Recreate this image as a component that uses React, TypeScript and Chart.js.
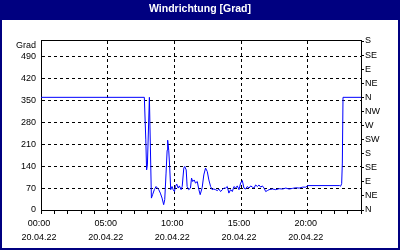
import React, { useEffect, useRef } from 'react';
import { Chart, registerables } from 'chart.js';

Chart.register(...registerables);

const TITLE = 'Windrichtung [Grad]';

const hours = [
  0, 7.75, 7.86, 7.92, 7.98, 8.13, 8.28, 8.37, 8.5, 8.63, 8.73, 8.83, 8.95, 9.08, 9.2, 9.28, 9.38, 9.46, 9.5, 9.58,
  9.65, 9.73, 9.83, 9.91, 10.01, 10.08, 10.18, 10.29, 10.38, 10.51, 10.59, 10.71, 10.78, 10.89, 10.96, 11.08, 11.21,
  11.29, 11.38, 11.49, 11.59, 11.72, 11.84, 11.94, 12.09, 12.21, 12.34, 12.47, 12.59, 12.72, 12.84, 12.96, 13.09,
  13.22, 13.34, 13.47, 13.6, 13.72, 13.85, 13.97, 14.09, 14.22, 14.35, 14.47, 14.6, 14.72, 14.85, 14.97, 15.1, 15.22,
  15.35, 15.47, 15.6, 15.73, 15.85, 15.97, 16.1, 16.23, 16.35, 16.48, 16.6, 16.73, 16.85, 16.98, 17.1, 17.36, 17.61,
  17.86, 18.11, 18.36, 18.61, 18.86, 19.11, 19.36, 19.62, 19.86, 20.0, 22.4, 22.47, 22.55, 22.6, 22.65, 24,
];

const degrees = [
  360, 360, 224, 128, 144, 360, 38, 49, 65, 75, 70, 65, 54, 38, 17, 33, 118, 191, 223, 191,
  139, 65, 75, 65, 59, 75, 83, 70, 77, 65, 75, 134, 139, 128, 75, 65, 70,
  102, 91, 96, 86, 91, 65, 49, 72, 112, 134, 123, 96, 75, 65, 67, 65,
  62, 67, 59, 65, 70, 70, 75, 54, 65, 59, 75, 70, 77, 65, 86, 94, 70,
  67, 75, 70, 77, 73, 70, 80, 75, 80, 73, 77, 70, 59, 62, 65, 67, 65,
  68, 67, 70, 67, 69, 71, 70, 73, 73, 78, 78, 76, 84, 150, 360, 360,
];

const leftTickValues = [0, 70, 140, 210, 280, 350, 420, 490];
const unitLabel = 'Grad';
const unitLabelValue = 527;
const compassLabels = ['N', 'NE', 'E', 'SE', 'S', 'SW', 'W', 'NW', 'N', 'NE', 'E', 'SE', 'S'];
const compassStep = 45;
const yMax = 540;
const xLabelHours = [0, 5, 10, 15, 20];
const timeLabels = ['00:00', '05:00', '10:00', '15:00', '20:00'];
const dateLabel = '20.04.22';

const NAVY = '#000080';
const FONT = 'Liberation Sans';

const framePlugin = {
  id: 'frame',
  beforeDraw(chart: any) {
    const { ctx, width, height } = chart;
    ctx.save();
    ctx.fillStyle = '#ffffff';
    ctx.fillRect(0, 0, width, height);
    ctx.fillStyle = NAVY;
    ctx.fillRect(0, 0, width, 20);
    ctx.strokeStyle = NAVY;
    ctx.lineWidth = 2;
    ctx.strokeRect(1, 1, width - 2, height - 2);
    ctx.restore();
  },
  afterDraw(chart: any) {
    const { ctx, chartArea } = chart;
    ctx.save();
    ctx.strokeStyle = '#000000';
    ctx.lineWidth = 1;
    ctx.beginPath();
    ctx.moveTo(chartArea.left, chartArea.top - 0.5);
    ctx.lineTo(chartArea.right + 1, chartArea.top - 0.5);
    ctx.stroke();
    ctx.restore();
  },
};

export default function App() {
  const ref = useRef<HTMLCanvasElement | null>(null);

  useEffect(() => {
    if (!ref.current) return;
    const points = hours.map((h, i) => ({ x: h, y: degrees[i] }));
    const tickFont = { family: FONT, size: 9 };
    const chart = new Chart(ref.current, {
      type: 'line',
      data: {
        datasets: [
          {
            data: points,
            borderColor: '#0000ff',
            borderWidth: 1,
            pointRadius: 0,
            tension: 0,
            xAxisID: 'x',
            yAxisID: 'y',
          },
        ],
      },
      options: {
        animation: false,
        responsive: false,
        devicePixelRatio: 1,
        layout: { padding: 0, autoPadding: false },
        plugins: {
          legend: { display: false },
          tooltip: { enabled: false },
          title: {
            display: true,
            text: TITLE,
            color: '#ffffff',
            font: { family: FONT, size: 10.5, weight: 'bold', lineHeight: 1.2 },
            padding: { top: 3, bottom: 25.4 },
          },
        },
        scales: {
          x: {
            type: 'linear',
            position: 'bottom',
            min: 0,
            max: 24,
            afterBuildTicks: (s: any) => {
              const t = [];
              for (let h = 0; h <= 24; h++) t.push({ value: h });
              s.ticks = t;
            },
            afterFit: (s: any) => {
              s.height = 40;
            },
            ticks: {
              autoSkip: false,
              maxRotation: 0,
              minRotation: 0,
              color: '#000000',
              font: { ...tickFont, lineHeight: 1.6 },
              padding: 2,
              labelOffset: -2,
              callback: (v: any) => {
                const i = xLabelHours.indexOf(Number(v));
                return i >= 0 ? [timeLabels[i], dateLabel] : '';
              },
            },
            grid: {
              color: (c: any) => {
                const v = c.tick ? c.tick.value : -1;
                return xLabelHours.includes(v) && v > 0 ? '#000000' : 'rgba(0,0,0,0)';
              },
              tickColor: '#000000',
              tickLength: 4,
              lineWidth: 1,
            },
            border: { display: true, color: '#000000', width: 1, dash: [3, 3] },
          },
          y: {
            type: 'linear',
            position: 'left',
            min: 0,
            max: yMax,
            afterBuildTicks: (s: any) => {
              s.ticks = [...leftTickValues, unitLabelValue].map((v) => ({ value: v }));
            },
            afterFit: (s: any) => {
              s.width = 41;
            },
            ticks: {
              autoSkip: false,
              color: '#000000',
              font: tickFont,
              padding: 5,
              callback: (v: any) => (Number(v) === unitLabelValue ? unitLabel : String(v)),
            },
            grid: {
              drawTicks: false,
              color: (c: any) => {
                const v = c.tick ? c.tick.value : -1;
                return v === 0 || v === unitLabelValue ? 'rgba(0,0,0,0)' : '#000000';
              },
              lineWidth: 1,
            },
            border: { display: true, color: '#000000', width: 1, dash: [3, 3] },
          },
          y2: {
            type: 'linear',
            position: 'right',
            min: 0,
            max: yMax,
            afterBuildTicks: (s: any) => {
              s.ticks = compassLabels.map((_, i) => ({ value: i * compassStep }));
            },
            afterFit: (s: any) => {
              s.width = 39;
            },
            ticks: {
              autoSkip: false,
              color: '#000000',
              font: tickFont,
              padding: 1,
              callback: (v: any) => compassLabels[Math.round(Number(v) / compassStep)] ?? '',
            },
            grid: {
              drawOnChartArea: false,
              drawTicks: true,
              tickLength: 3,
              tickColor: '#000000',
              color: '#000000',
            },
            border: { display: true, color: '#000000', width: 1 },
          },
        },
      },
      plugins: [framePlugin],
    } as any);
    return () => chart.destroy();
  }, []);

  return (
    <div style={{ position: 'fixed', left: 0, top: 0, width: 400, height: 250 }}>
      <canvas ref={ref} width={400} height={250} style={{ display: 'block' }} />
    </div>
  );
}
